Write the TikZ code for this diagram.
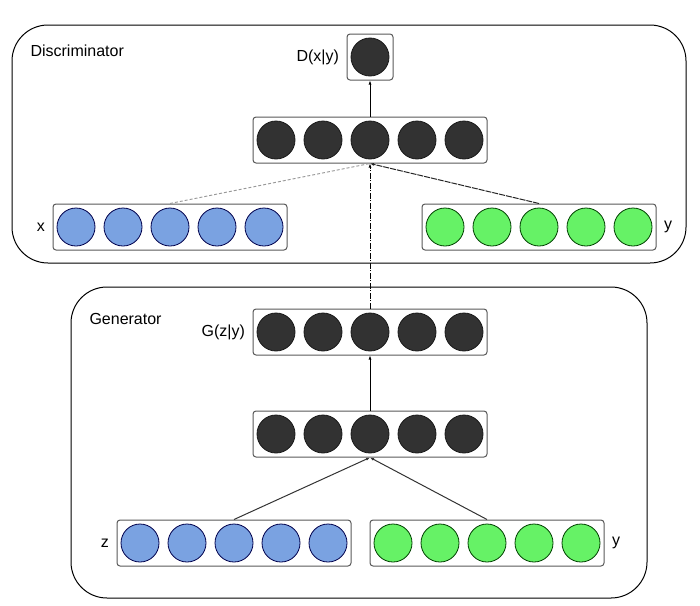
\documentclass[tikz,border=0pt]{standalone}
\usepackage{fontspec}
\setmainfont{Liberation Sans}
\usepackage{xcolor}
\usetikzlibrary{arrows.meta,positioning}

\definecolor{cellblue}{RGB}{122,162,225}
\definecolor{cellgreen}{RGB}{102,242,102}
\definecolor{celldark}{RGB}{50,50,50}

\tikzset{
    layerbox/.style={draw=black!65, fill=white, rounded corners=3pt, line width=1pt,
        minimum width=234pt, minimum height=46pt, inner sep=0pt},
    unit/.style={circle, minimum size=38pt, inner sep=0pt, line width=0.8pt},
    darkunit/.style={unit, fill=celldark, draw=black!90},
    blueunit/.style={unit, fill=cellblue, draw=blue!30!black},
    greenunit/.style={unit, fill=cellgreen, draw=green!25!black},
    netlabel/.style={font=\fontsize{16}{18}\selectfont},
    feed/.style={line width=1pt, -{Latex[length=4pt,width=3pt]}},
}

\begin{document}
\begin{tikzpicture}[x=1pt, y=-1pt]
    \useasboundingbox (0,0) rectangle (700,605);
    \coordinate (cOut) at (370,57);
    \coordinate (cDH) at (370,140);
    \coordinate (cX) at (170,227);
    \coordinate (cYD) at (539,227);
    \coordinate (cG) at (370,332);
    \coordinate (cGH) at (370,434);
    \coordinate (cZ) at (234,543);
    \coordinate (cYG) at (487,543);
    % the two networks
    \draw[rounded corners=36pt, line width=1pt] (12,25) rectangle (686,263);
    \draw[rounded corners=36pt, line width=1pt] (71,287) rectangle (647,598);
    \node[netlabel, anchor=west] (discTitle) at (27,51) {Discriminator};
    \node[netlabel, anchor=west] (genTitle) at (86,319) {Generator};
    % layers
    \node[layerbox, minimum width=46pt] (Out) at (cOut) {};
    \node[darkunit] (Out0) at (cOut) {};
    \foreach \lay/\sty in {DH/darkunit, X/blueunit, YD/greenunit, G/darkunit, GH/darkunit, Z/blueunit, YG/greenunit} {
        \node[layerbox] (\lay) at (c\lay) {};
        \foreach \i in {0,...,4}
            \node[\sty] (\lay\i) at ([xshift=(\i-2)*47pt]c\lay) {};
    }
    \node[netlabel, left=4pt of Out] (outLabel) {D(x|y)};
    \node[netlabel, left=4pt of X] (xLabel) {x};
    \node[netlabel, right=4pt of YD] (ydLabel) {y};
    \node[netlabel, left=4pt of G] (gLabel) {G(z|y)};
    \node[netlabel, left=4pt of Z] (zLabel) {z};
    \node[netlabel, right=4pt of YG] (ygLabel) {y};
    % connections
    \draw[black!40, densely dashed, line width=0.9pt] (X.north) -- (DH.south);
    \draw[feed, dash pattern=on 6pt off 1pt, black!85] (YD.north) -- (DH.south);
    \draw[feed, dash pattern=on 6pt off 1.5pt on 1pt off 1.5pt] (G.north) -- (DH.south);
    \draw[feed] (DH.north) -- (Out.south);
    \draw[feed] (GH.north) -- (G.south);
    \draw[feed, black!80] (Z.north) -- (GH.south);
    \draw[feed, black!80] (YG.north) -- (GH.south);
\end{tikzpicture}
\end{document}
